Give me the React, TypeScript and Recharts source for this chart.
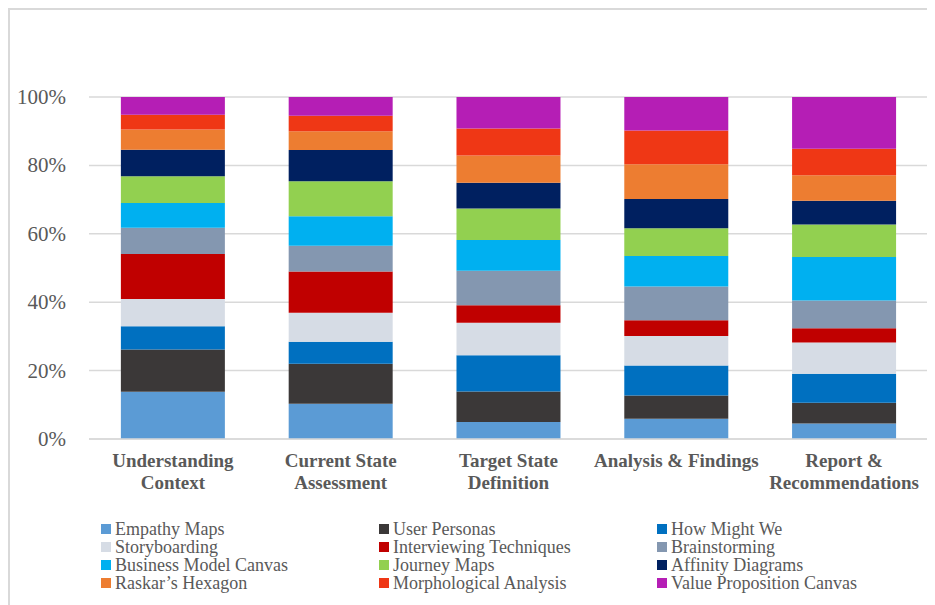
import React from "react";
import { BarChart, Bar, XAxis, YAxis, CartesianGrid } from "recharts";

// Project phases (line breaks mark where each axis label wraps)
const phases = [
  "Understanding\nContext",
  "Current State\nAssessment",
  "Target State\nDefinition",
  "Analysis & Findings",
  "Report &\nRecommendations",
];

// Share of each method per phase, in percent
const empathyMaps = [13.8, 10.3, 5.0, 5.9, 4.5];
const userPersonas = [12.4, 11.7, 8.9, 6.8, 6.1];
const howMightWe = [6.8, 6.4, 10.6, 8.8, 8.5];
const storyboarding = [7.9, 8.5, 9.5, 8.6, 9.1];
const interviewing = [13.2, 12.1, 5.1, 4.6, 4.2];
const brainstorming = [7.7, 7.5, 10.1, 9.9, 8.1];
const businessModelCanvas = [7.2, 8.6, 9.0, 8.9, 12.7];
const journeyMaps = [7.8, 10.3, 9.2, 8.1, 9.5];
const affinityDiagrams = [7.8, 9.1, 7.5, 8.6, 7.0];
const raskarsHexagon = [5.9, 5.5, 8.0, 10.1, 7.4];
const morphological = [4.3, 4.5, 7.9, 9.9, 7.8];
const valueProposition = [5.2, 5.5, 9.2, 9.8, 15.1];

const yTicks = [0, 0.2, 0.4, 0.6, 0.8, 1];

const series = [
  { key: "empathy", name: "Empathy Maps", color: "#5B9BD5", values: empathyMaps },
  { key: "personas", name: "User Personas", color: "#3B3838", values: userPersonas },
  { key: "hmw", name: "How Might We", color: "#0070C0", values: howMightWe },
  { key: "story", name: "Storyboarding", color: "#D6DCE5", values: storyboarding },
  { key: "interview", name: "Interviewing Techniques", color: "#C00000", values: interviewing },
  { key: "brainstorm", name: "Brainstorming", color: "#8497B0", values: brainstorming },
  { key: "bmc", name: "Business Model Canvas", color: "#00B0F0", values: businessModelCanvas },
  { key: "journey", name: "Journey Maps", color: "#92D050", values: journeyMaps },
  { key: "affinity", name: "Affinity Diagrams", color: "#002060", values: affinityDiagrams },
  { key: "raskar", name: "Raskar\u2019s Hexagon", color: "#ED7D31", values: raskarsHexagon },
  { key: "morph", name: "Morphological Analysis", color: "#EF3715", values: morphological },
  { key: "vpc", name: "Value Proposition Canvas", color: "#B51EB5", values: valueProposition },
];

const data = phases.map((phase, i) => {
  const row: Record<string, string | number> = { phase };
  series.forEach((s) => {
    row[s.key] = s.values[i];
  });
  return row;
});

const FONT = "'Liberation Serif', 'Times New Roman', serif";
const TEXT = "#595959";

const PhaseTick = (props: any) => {
  const { x, y, payload } = props;
  const lines = String(payload.value).split("\n");
  return (
    <text
      x={x}
      y={y}
      textAnchor="middle"
      fill={TEXT}
      style={{ fontFamily: FONT, fontSize: 19, fontWeight: "bold" }}
    >
      {lines.map((line, i) => (
        <tspan key={i} x={x} dy={i === 0 ? 28 : 22}>
          {line}
        </tspan>
      ))}
    </text>
  );
};

const PercentTick = (props: any) => {
  const { x, y, payload } = props;
  return (
    <text
      x={x}
      y={y}
      dy={7}
      textAnchor="end"
      fill={TEXT}
      style={{ fontFamily: FONT, fontSize: 21 }}
    >
      {`${Math.round(payload.value * 100)}%`}
    </text>
  );
};

const Legend3 = () => (
  <div
    style={{
      position: "absolute",
      left: 91,
      top: 510,
      display: "grid",
      gridTemplateColumns: "278px 278px 278px",
      fontFamily: FONT,
      fontSize: 18,
      lineHeight: "18px",
      color: TEXT,
    }}
  >
    {series.map((s) => (
      <div key={s.key} style={{ display: "flex", alignItems: "center", whiteSpace: "nowrap" }}>
        <span
          style={{
            display: "inline-block",
            width: 10,
            height: 10,
            background: s.color,
            marginRight: 4,
          }}
        />
        {s.name}
      </div>
    ))}
  </div>
);

export default function App() {
  return (
    <div
      style={{
        position: "relative",
        width: 927,
        height: 597,
        boxSizing: "border-box",
        borderTop: "2px solid #d9d9d9",
        borderLeft: "2px solid #d9d9d9",
        background: "#fff",
      }}
    >
      <BarChart
        width={925}
        height={595}
        data={data}
        stackOffset="expand"
        barCategoryGap="19%"
        margin={{ top: 87, right: 7, left: 0, bottom: 0 }}
      >
        <CartesianGrid vertical={false} stroke="#d9d9d9" strokeWidth={1.5} />
        <XAxis
          dataKey="phase"
          height={166}
          axisLine={{ stroke: "#d9d9d9", strokeWidth: 1.5 }}
          tickLine={false}
          tickSize={0}
          tickMargin={0}
          interval={0}
          tick={<PhaseTick />}
        />
        <YAxis
          width={79}
          ticks={yTicks}
          domain={[0, 1]}
          axisLine={false}
          tickLine={false}
          tickSize={0}
          tickMargin={23}
          tick={<PercentTick />}
        />
        {series.map((s) => (
          <Bar
            key={s.key}
            dataKey={s.key}
            name={s.name}
            stackId="a"
            fill={s.color}
            isAnimationActive={false}
          />
        ))}
      </BarChart>
      <Legend3 />
    </div>
  );
}
